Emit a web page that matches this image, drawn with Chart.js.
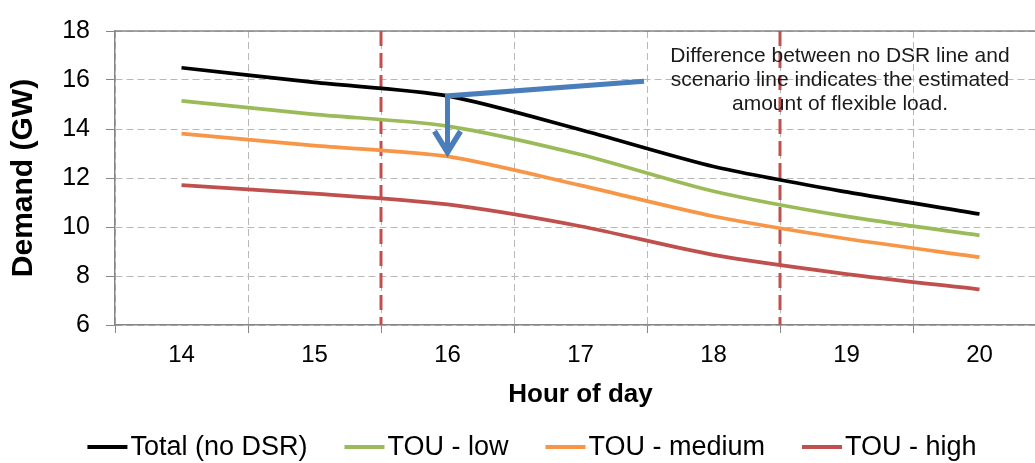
<!DOCTYPE html>
<html lang="en">
<head>
<meta charset="UTF-8">
<title>Demand by hour of day</title>
<script src="https://cdn.jsdelivr.net/npm/chart.js"></script>
<style>
  html, body { margin: 0; padding: 0; background: #fff; overflow: hidden; }
  #wrap { position: relative; width: 1050px; height: 463px; }
</style>
</head>
<body>
<div id="wrap"><canvas id="demandChart" width="1050" height="463"></canvas></div>
<script>
// data (GW)
const hours = ['14', '15', '16', '17', '18', '19', '20'];
const totalNoDsr = [16.5, 15.9, 15.35, 13.97, 12.47, 11.43, 10.53];
const touLow = [15.15, 14.6, 14.12, 12.96, 11.46, 10.43, 9.66];
const touMedium = [13.81, 13.32, 12.88, 11.7, 10.44, 9.52, 8.77];
const touHigh = [11.71, 11.36, 10.92, 10.03, 8.86, 8.08, 7.45];
const yTicks = [6, 8, 10, 12, 14, 16, 18];
const markerHours = [15.5, 18.5];
const noteLines = [
  'Difference between no DSR line and',
  'scenario line indicates the estimated',
  'amount of flexible load.'
];

const FONT = "'Liberation Sans', Arial, sans-serif";
const AXIS = '#868686';
const GRID = '#b8b8b8';

// hour (e.g. 15.5) -> category index on the x scale
function hourIdx(h) { return h - Number(hours[0]); }

const series = [
  { label: 'Total (no DSR)', data: totalNoDsr, color: '#000000' },
  { label: 'TOU - low', data: touLow, color: '#9bbb59' },
  { label: 'TOU - medium', data: touMedium, color: '#f79646' },
  { label: 'TOU - high', data: touHigh, color: '#c0504d' }
];

// red dashed period markers + solid top frame line
const markerPlugin = {
  id: 'markers',
  beforeDatasetsDraw(chart) {
    const { ctx, chartArea: a, scales: { x } } = chart;
    ctx.save();
    ctx.strokeStyle = AXIS;
    ctx.lineWidth = 1.5;
    ctx.beginPath();
    ctx.moveTo(a.left, a.top);
    ctx.lineTo(a.right, a.top);
    ctx.stroke();

    ctx.strokeStyle = '#c0504d';
    ctx.lineWidth = 3;
    ctx.setLineDash([15, 7]);
    markerHours.forEach(h => {
      const px = Math.round(x.getPixelForValue(hourIdx(h)));
      ctx.beginPath();
      ctx.moveTo(px, a.top);
      ctx.lineTo(px, a.bottom);
      ctx.stroke();
    });
    ctx.restore();
  }
};

// blue callout arrow and its note
const notePlugin = {
  id: 'note',
  afterDatasetsDraw(chart) {
    const { ctx, scales: { x, y } } = chart;
    const cx = x.getPixelForValue(hourIdx(16));
    const cy = y.getPixelForValue(totalNoDsr[2]);
    const ex = x.getPixelForValue(hourIdx(17.5)) - 3;
    const ey = y.getPixelForValue(15.95);
    const ty = y.getPixelForValue(12.97);
    ctx.save();
    ctx.strokeStyle = '#4a7ebb';
    ctx.lineWidth = 5;
    ctx.lineJoin = 'miter';
    ctx.beginPath();
    ctx.moveTo(ex, ey);
    ctx.lineTo(cx, cy);
    ctx.lineTo(cx, ty - 3);
    ctx.stroke();
    ctx.lineWidth = 5.5;
    ctx.beginPath();
    ctx.moveTo(cx - 13, ty - 23);
    ctx.lineTo(cx, ty - 2);
    ctx.lineTo(cx + 13, ty - 23);
    ctx.stroke();

    ctx.fillStyle = '#1a1a1a';
    ctx.font = '21px ' + FONT;
    ctx.textAlign = 'center';
    ctx.textBaseline = 'alphabetic';
    noteLines.forEach((t, i) => ctx.fillText(t, 840, 62 + i * 24));
    ctx.restore();
  }
};

// legend: short line then text right next to it
const legendPlugin = {
  id: 'lineLegend',
  afterDraw(chart) {
    const ctx = chart.ctx;
    ctx.save();
    ctx.font = '27px ' + FONT;
    const mark = 40, gap = 3, space = 37;
    const widths = series.map(s => ctx.measureText(s.label).width);
    const total = widths.reduce((a, w) => a + mark + gap + w, 0) + space * (series.length - 1);
    let px = 532 - total / 2;
    series.forEach((s, i) => {
      ctx.strokeStyle = s.color;
      ctx.lineWidth = 4;
      ctx.beginPath();
      ctx.moveTo(px, 447);
      ctx.lineTo(px + mark, 447);
      ctx.stroke();
      ctx.fillStyle = '#000';
      ctx.textBaseline = 'alphabetic';
      ctx.fillText(s.label, px + mark + gap, 455);
      px += mark + gap + widths[i] + space;
    });
    ctx.restore();
  }
};

new Chart(document.getElementById('demandChart'), {
  type: 'line',
  data: {
    labels: hours,
    datasets: series.map(s => ({
      label: s.label,
      data: s.data,
      borderColor: s.color,
      backgroundColor: s.color,
      borderWidth: 3.75,
      tension: 0.25,
      pointRadius: 0,
      fill: false
    }))
  },
  options: {
    responsive: false,
    animation: false,
    devicePixelRatio: 1,
    layout: { padding: { top: 22, left: 0, right: 4, bottom: 52 } },
    plugins: { legend: { display: false }, tooltip: { enabled: false } },
    scales: {
      x: {
        type: 'category',
        offset: true,
        grid: { offset: true, color: GRID, tickColor: AXIS, tickLength: 8, lineWidth: 1 },
        border: { color: AXIS, width: 1.5, dash: [7, 4] },
        ticks: { color: '#000', font: { family: FONT, size: 24 }, padding: 8, maxRotation: 0, autoSkip: false },
        title: {
          display: true, text: 'Hour of day', color: '#000',
          font: { family: FONT, size: 26, weight: 'bold' }, padding: { top: 0, bottom: 1 }
        },
        afterFit(s) { s.height = 86; }
      },
      y: {
        min: 6,
        max: 18,
        afterBuildTicks(s) { s.ticks = yTicks.map(v => ({ value: v })); },
        grid: { color: GRID, tickColor: AXIS, tickLength: 9, lineWidth: 1 },
        border: { color: AXIS, width: 1.5, dash: [7, 4] },
        ticks: { color: '#000', font: { family: FONT, size: 25 }, padding: 16 },
        title: {
          display: true, text: 'Demand (GW)', color: '#000',
          font: { family: FONT, size: 30, weight: 'bold' }, padding: { top: 6, bottom: 0 }
        },
        afterFit(s) { s.width = 115; }
      }
    }
  },
  plugins: [markerPlugin, notePlugin, legendPlugin]
});
</script>
</body>
</html>
